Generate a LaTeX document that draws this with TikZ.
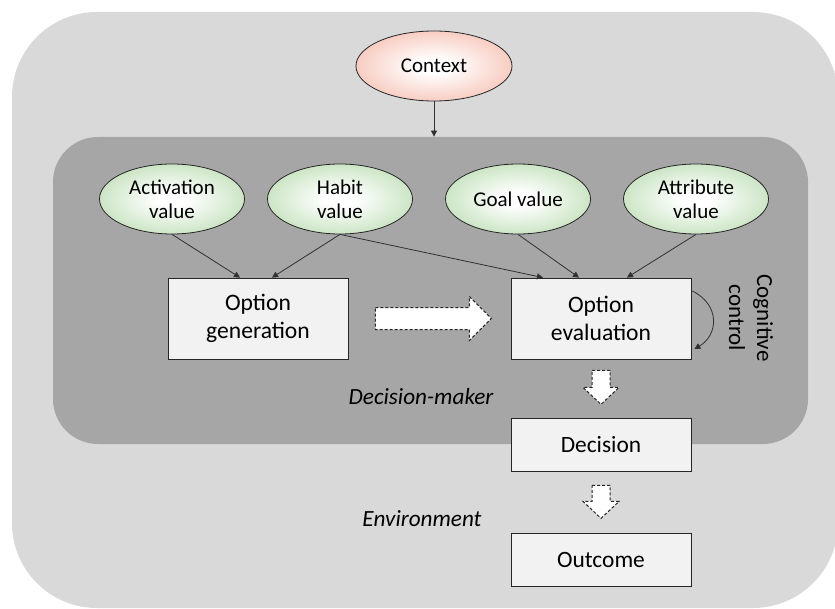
\documentclass[tikz,border=0pt]{standalone}
\usepackage{fontspec}
\setmainfont{Carlito}
\usepackage{tikz}
\usetikzlibrary{arrows.meta,positioning,calc,shapes.geometric}
\definecolor{ink}{HTML}{262626}
\definecolor{wire}{HTML}{303030}
\definecolor{envgray}{HTML}{D9D9D9}
\definecolor{dmgray}{HTML}{A6A6A6}
\definecolor{boxfill}{HTML}{F2F2F2}
\definecolor{greenedge}{HTML}{B3D8A9}
\definecolor{rededge}{HTML}{F4B4A4}
\pgfdeclareradialshading{greenglow}{\pgfpoint{0bp}{0bp}}{color(0bp)=(white); color(5bp)=(white); color(35bp)=(greenedge); color(100bp)=(greenedge)}
\pgfdeclareradialshading{redglow}{\pgfpoint{0bp}{0bp}}{color(0bp)=(white); color(5bp)=(white); color(35bp)=(rededge); color(100bp)=(rededge)}
\tikzset{
  panel/.style={draw=none, inner sep=0pt},
  valuenode/.style={ellipse, draw=ink, thin, inner sep=0pt, minimum width=72.5pt, minimum height=35pt, align=center, font=\fontsize{10.5}{12}\selectfont, shading=greenglow},
  ctxnode/.style={valuenode, minimum width=78pt, shading=redglow},
  stagebox/.style={draw=ink, thin, fill=boxfill, minimum width=90pt, minimum height=40.5pt, inner sep=0pt, align=center, font=\fontsize{11.8}{14}\selectfont},
  smallbox/.style={stagebox, minimum height=26.5pt, font=\fontsize{11.7}{13}\selectfont},
  label/.style={font=\fontsize{11.6}{13}\selectfont\itshape, text=black},
  arrow/.style={-{Triangle[length=3pt,width=3pt]}, draw=wire, line width=0.4pt},
  blockarrow/.style={draw=ink, dashed, dash pattern=on 1.5pt off 1pt, line width=0.5pt, fill=white}
}
\begin{document}
\begin{tikzpicture}[x=0.5pt,y=-0.5pt]
\path[use as bounding box, clip] (0,0) rectangle (835,609);
% panels
\node[panel, fill=envgray, rounded corners=42.5pt, minimum width=413pt, minimum height=298pt] (env) at (425,310) {};
\node[panel, fill=dmgray, rounded corners=22.5pt, minimum width=377.5pt, minimum height=153.5pt] (dm) at (430.5,290.5) {};
% context
\node[ctxnode] (ctx) at (434,66) {Context};
\draw[arrow] (ctx.south) -- (ctx.south |- dm.north);
% values
\node[valuenode] (act) at (172,199) {Activation\\value};
\node[valuenode] (hab) at (340,199) {Habit\\value};
\node[valuenode] (goal) at (518,199) {Goal value};
\node[valuenode] (attr) at (696,199) {Attribute\\value};
% stages
\node[stagebox] (gen) at (258,318.5) {Option\\generation};
\node[stagebox] (eval) at (601,318.5) {Option\\evaluation};
\node[smallbox] (dec) at (601,444.5) {Decision};
\node[smallbox] (outc) at (601,559.5) {Outcome};
\draw[arrow] (act.south) -- ($(gen.north)+(-18,0)$);
\draw[arrow] (hab.south) -- ($(gen.north)+(14,0)$);
\draw[arrow] (hab.south) -- ($(eval.north)+(-58,0)$);
\draw[arrow] (goal.south) -- ($(eval.north)+(-22,0)$);
\draw[arrow] (attr.south) -- ($(eval.north)+(26,0)$);
% block arrows
\draw[blockarrow] ($(gen.east)+(27,-11)$) -- ++(94,0) -- ++(0,-11) -- ++(22,22) -- ++(-22,22) -- ++(0,-11) -- ++(-94,0) -- cycle;
\draw[blockarrow] ($(eval.south)+(-9,11)$) -- ++(18,0) -- ++(0,17) -- ++(9,0) -- ++(-18,17) -- ++(-18,-17) -- ++(9,0) -- cycle;
\draw[blockarrow] ($(dec.south)+(-9,14)$) -- ++(18,0) -- ++(0,16) -- ++(9,0) -- ++(-18,17) -- ++(-18,-17) -- ++(9,0) -- cycle;
% cognitive control loop
\coordinate (cc1) at ($(eval.east)+(1,-27.5)$);
\coordinate (cc2) at ($(eval.east)+(3,30.5)$);
\draw[arrow] (cc1) .. controls ($(cc1)+(28,14)$) and ($(cc2)+(24,-14)$) .. (cc2);
\node[font=\fontsize{11.5}{14}\selectfont, rotate=-90, align=center] (cog) at (751,318) {Cognitive\\control};
% labels
\node[label] (dmlabel) at (421,397) {Decision-maker};
\node[label] (envlabel) at (422,519) {Environment};
\end{tikzpicture}
\end{document}
